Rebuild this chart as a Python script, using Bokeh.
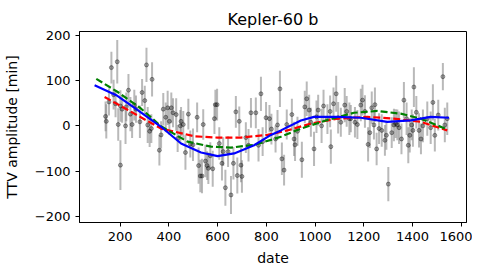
from bokeh.plotting import figure
from bokeh.models import ColumnDataSource, Range1d
from bokeh.embed import file_html
from bokeh.resources import INLINE

# observed transit timing variations (date [d], TTV [min], error [min])
obs_date = [140, 143, 154, 164, 173, 181, 188, 192, 201, 201, 208, 222, 225, 234, 242, 249, 258, 265,
            281, 290, 301, 308, 313, 321, 328, 331, 361, 368, 377, 387, 395, 402, 410, 417, 430, 436,
            447, 450, 459, 468, 480, 488, 499, 516, 522, 529, 536, 541, 550, 557, 562, 570, 580, 587,
            591, 598, 607, 618, 623, 632, 643, 655, 665, 675, 681, 689, 696, 700, 716, 727, 737, 757,
            768, 778, 785, 799, 813, 821, 838, 846, 856, 864, 873, 884, 905, 914, 918, 928, 946, 958,
            966, 976, 983, 996, 1006, 1013, 1027, 1035, 1051, 1062, 1065, 1076, 1087, 1095, 1106, 1122,
            1130, 1141, 1147, 1164, 1174, 1188, 1195, 1205, 1218, 1225, 1233, 1242, 1246, 1253, 1263,
            1274, 1287, 1293, 1301, 1315, 1324, 1331, 1338, 1345, 1355, 1365, 1376, 1383, 1389, 1397,
            1402, 1406, 1416, 1427, 1435, 1443, 1461, 1475, 1484, 1492, 1506, 1525, 1533, 1543]
obs_ttv = [21, 10, 53, 129, 69, 49, 142, 3, -87, 44, 37, 0, 42, 79, 26, 3, 46, 37,
           9, 74, 56, 135, 2, -12, -6, 103, -54, -20, 37, 19, 40, 10, 40, 29, 25, -28,
           0, 10, 3, -59, 26, -40, -42, 19, -88, -111, -111, 3, -78, -88, -94, -66, -95, 16,
           47, 47, -39, -83, -57, -137, -57, -153, -83, 31, -110, 10, -87, -112, -26, -43, 29, 29,
           -43, 71, -35, 18, 16, -7, -29, 2, 82, -73, -98, 3, 25, -29, -42, -12, -75, 42,
           60, 35, 8, -51, 20, 35, 0, 44, 15, 32, -46, 49, 71, 18, 8, 46,
           32, 16, 16, 8, 3, 46, 57, 32, -41, -15, 40, 2, 47, -51, -6,
           -10, -32, -21, -129, -15, 2, 5, 2, -4, -29, 57, 16, -43, -21, 2,
           -10, 86, 30, -10, -29, 0, 16, -4, 52, -21, 24, 109, 2, 16]
obs_err = [33, 38, 30, 35, 33, 30, 48, 36, 55, 35, 30, 40, 32, 36, 38, 30, 34, 30,
           36, 30, 33, 38, 40, 35, 32, 38, 34, 30, 36, 33, 38, 30, 34, 32, 36, 30,
           35, 32, 30, 38, 34, 30, 36, 33, 40, 36, 38, 34, 36, 32, 35, 30, 40, 34,
           33, 35, 36, 38, 32, 40, 34, 42, 36, 35, 40, 33, 38, 36, 34, 36, 33, 34,
           36, 38, 32, 35, 30, 34, 30, 33, 40, 36, 34, 33, 35, 38, 36, 32, 40, 36,
           38, 34, 32, 38, 36, 34, 38, 36, 33, 35, 38, 36, 40, 35, 32, 38,
           34, 36, 30, 34, 32, 36, 34, 36, 38, 34, 36, 32, 38, 36, 34,
           36, 34, 32, 38, 34, 36, 32, 34, 36, 34, 40, 36, 40, 38, 34,
           36, 44, 36, 38, 34, 36, 38, 36, 40, 36, 34, 30, 38, 36]

# model curves
red_date = [136, 232, 368, 505, 600, 696, 805, 887, 983, 1092, 1215, 1324, 1434, 1543]
red_ttv = [64, 35, -6, -23, -26, -26, -20, -10, 5, 16, 20, 16, 9, -10]
green_date = [102, 190, 286, 368, 477, 573, 655, 750, 819, 860, 942, 1051, 1160, 1256, 1352, 1434, 1543]
green_ttv = [104, 75, 38, -1, -35, -46, -48, -42, -31, -24, -6, 13, 29, 33, 27, 16, -8]
blue_date = [95, 184, 272, 368, 450, 532, 600, 668, 750, 819, 860, 942, 996, 1092, 1188, 1297, 1393, 1475, 1550]
blue_ttv = [90, 68, 35, -2, -39, -59, -67, -61, -43, -20, -10, 12, 20, 20, 18, 9, 12, 20, 18]

FONT = "DejaVu Sans"

p = figure(width=472, height=268, output_backend="svg", toolbar_location=None,
           x_range=Range1d(33, 1622), y_range=Range1d(-214, 209),
           min_border_left=78, min_border_right=6, min_border_top=31, min_border_bottom=45)
p.title.text = "Kepler-60 b"
p.title.align = "center"
p.title.text_font = FONT
p.title.text_font_size = "16px"
p.title.text_font_style = "normal"
p.title.text_color = "black"
p.title.offset = 0
p.title.standoff = 6

p.xgrid.visible = False
p.ygrid.visible = False
p.outline_line_color = "black"
p.outline_line_alpha = 1
p.outline_line_width = 1
p.background_fill_color = "white"
p.border_fill_color = "white"

for ax in (p.xaxis[0], p.yaxis[0]):
    ax.axis_line_color = "black"
    ax.major_tick_line_color = "black"
    ax.major_tick_out = 4
    ax.major_tick_in = 0
    ax.minor_tick_line_color = None
    ax.major_label_text_font = FONT
    ax.major_label_text_font_size = "13px"
    ax.major_label_text_color = "black"
    ax.axis_label_text_font = FONT
    ax.axis_label_text_font_size = "14px"
    ax.axis_label_text_font_style = "normal"
    ax.axis_label_text_color = "black"

p.xaxis.ticker = [200, 400, 600, 800, 1000, 1200, 1400, 1600]
p.yaxis.ticker = [-200, -100, 0, 100, 200]
p.xaxis.axis_label = "date"
p.yaxis.axis_label = "TTV amplitude [min]"
p.xaxis.axis_label_standoff = 6
p.yaxis.axis_label_standoff = 12

src = ColumnDataSource(dict(
    x=obs_date, y=obs_ttv,
    lo=[v - e for v, e in zip(obs_ttv, obs_err)],
    hi=[v + e for v, e in zip(obs_ttv, obs_err)],
))
p.segment(x0="x", y0="lo", x1="x", y1="hi", source=src, line_color="gray", line_alpha=0.55, line_width=2)
p.scatter(x="x", y="y", source=src, size=4, fill_color="black", fill_alpha=0.3,
          line_color="black", line_alpha=0.35, line_width=1)

p.line(red_date, red_ttv, line_color="red", line_width=2.2, line_dash="7 3")
p.line(green_date, green_ttv, line_color="green", line_width=2.2, line_dash="7 3")
p.line(blue_date, blue_ttv, line_color="blue", line_width=2.2)

open("out.html", "w").write(file_html(p, INLINE))
